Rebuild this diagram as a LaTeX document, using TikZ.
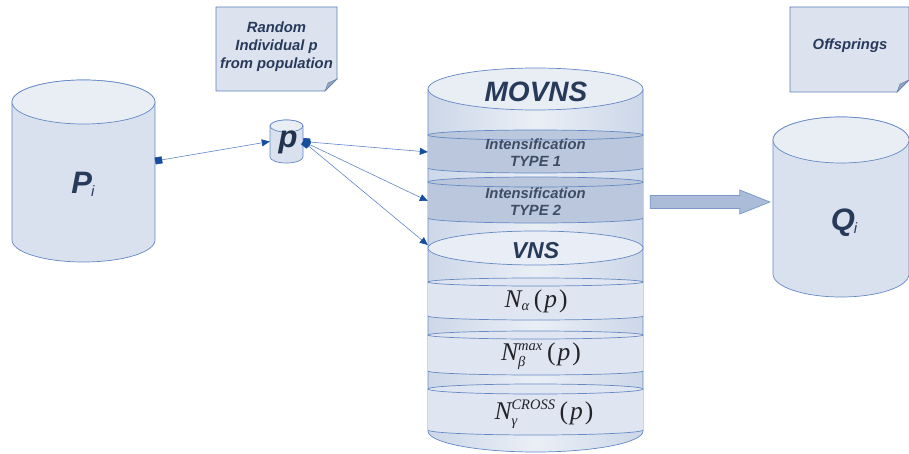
\documentclass[tikz,border=0pt]{standalone}
\usepackage{fontspec}
\newfontfamily\lab{Liberation Sans}
\newfontfamily\tms{Liberation Serif}
\usetikzlibrary{arrows.meta,calc}
\definecolor{cylfill}{RGB}{218,225,238}
\definecolor{cyltop}{RGB}{233,237,244}
\definecolor{cylline}{RGB}{100,137,196}
\definecolor{banddark}{RGB}{186,199,220}
\definecolor{bandlight}{RGB}{224,230,241}
\definecolor{movedge}{RGB}{204,215,232}
\definecolor{movmid}{RGB}{234,239,246}
\definecolor{vnsfill}{RGB}{233,237,245}
\definecolor{txt}{RGB}{40,58,90}
\definecolor{txtgray}{RGB}{62,76,102}
\definecolor{mathtxt}{RGB}{35,35,40}
\definecolor{arrline}{RGB}{95,135,200}
\definecolor{arrtip}{RGB}{22,78,158}
\definecolor{blockfill}{RGB}{170,188,216}
\definecolor{blockline}{RGB}{122,152,200}
\definecolor{notefill}{RGB}{220,227,239}
\definecolor{noteline}{RGB}{90,125,185}
\definecolor{foldfill}{RGB}{150,162,182}
\tikzset{sqtip/.tip={Square[length=7pt,width=7pt,color=arrtip]},
         tritip/.tip={Triangle[length=8pt,width=7pt,color=arrtip]}}
% cylinder: cx, y top-centre, y bottom-centre, rx, ry
\newcommand\dbcyl[5]{%
  \filldraw[cylline, fill=cylfill, line width=0.7pt] (#1-#4,#2) -- (#1-#4,#3) arc (180:360:#4 and #5) -- (#1+#4,#2) arc (0:180:#4 and #5) -- cycle;
  \filldraw[cylline, fill=cyltop, line width=0.7pt] (#1,#2) ellipse (#4 and #5);
}
% band of the MOVNS cylinder: y top, y bottom, ry, fill
\newcommand\movband[4]{%
  \fill[#4] (428,#1) arc (180:0:107.5 and #3) -- (643,#2) arc (0:-180:107.5 and #3) -- cycle;
  \draw[cylline, line width=0.7pt] (535.5,#1) ellipse (107.5 and #3);
  \draw[cylline, line width=0.7pt] (428,#2) arc (180:360:107.5 and #3);
}
% note with folded corner: x1, ytop, x2, ybottom
\newcommand\notebox[4]{%
  \filldraw[noteline, fill=notefill, line width=0.7pt] (#1,#2) -- (#3,#2) -- (#3,#4+12) -- (#3-12,#4) -- (#1,#4) -- cycle;
  \filldraw[noteline, fill=foldfill, line width=0.4pt] (#3-12,#4) -- (#3,#4+12) -- (#3-9,#4+8) -- cycle;
}
\newcommand\tmsit[1]{\mbox{\tms\itshape #1}}
\newcommand\tmssm[1]{\mbox{\tms\itshape\fontsize{14.5}{16}\selectfont #1}}
\newcommand\tmsarg{\,\mbox{\tms(\kern2pt\itshape p\kern2pt\upshape)}}
\begin{document}
\begin{tikzpicture}[x=1pt,y=1pt,
  lab/.style={font=\lab\bfseries\itshape, text=txt, align=center, inner sep=0pt},
  mlab/.style={text=mathtxt, inner sep=0pt, font=\fontsize{25.5}{28}\selectfont},
  area/.style={inner sep=0pt, draw=none},
  conn/.style={draw=arrline, line width=0.6pt}]
\useasboundingbox (0,0) rectangle (909,453);

% notes
\notebox{216}{446}{337}{362}
\node[lab, font=\lab\bfseries\itshape\fontsize{14.8}{18}\selectfont] (n1) at (276.5,406) {Random\\Individual p\\from population};
\notebox{790}{446}{909}{361}
\node[lab, font=\lab\bfseries\itshape\fontsize{14.8}{18}\selectfont] (n2) at (850,407) {Offsprings};

% P_i
\dbcyl{83.5}{351}{213}{71.5}{22}
\node[area, minimum width=143pt, minimum height=182pt] (Pi) at (83.5,282) {};
\node[lab] (Pit) at (83,269) {\fontsize{31}{32}\selectfont P\kern-1pt\fontsize{15}{16}\selectfont\mdseries\raisebox{-3pt}{i}};

% p
\dbcyl{286.5}{327}{296}{16.5}{6}
\node[area, minimum width=33pt, minimum height=43pt] (p) at (286.5,311.5) {};
\node[lab, text=txt!85!black] (pt) at (288,311) {\fontsize{31}{32}\selectfont p};

% Q_i
\dbcyl{841}{313}{179}{68}{23}
\node[area, minimum width=136pt, minimum height=180pt] (Qi) at (841,246) {};
\node[lab] (Qit) at (844,230) {\fontsize{31}{32}\selectfont Q\kern-1pt\fontsize{15}{16}\selectfont\mdseries\raisebox{-3pt}{i}};

% MOVNS cylinder
\shade[left color=movedge, right color=movedge, middle color=movmid] (428,364) -- (428,22) arc (180:360:107.5 and 21) -- (643,364) arc (0:180:107.5 and 21) -- cycle;
\draw[cylline, line width=0.7pt] (428,364) -- (428,22) arc (180:360:107.5 and 21) -- (643,364);
\filldraw[cylline, fill=cyltop, line width=0.7pt] (535.5,364) ellipse (107.5 and 21);
\node[area, minimum width=215pt, minimum height=383pt] (mov) at (535.5,193) {};
\node[lab, font=\lab\bfseries\itshape\fontsize{28}{30}\selectfont] (movt) at (536,361) {MOVNS};

\movband{318}{285}{5}{banddark}
\movband{271}{235}{5}{banddark}
\movband{171}{137}{4}{bandlight}
\movband{118}{82}{4}{bandlight}
\movband{64}{23}{5}{bandlight}
\filldraw[cylline, fill=vnsfill, line width=0.7pt] (535.5,205) ellipse (107.5 and 17);

\node[lab, text=txtgray, minimum width=215pt, minimum height=43pt, font=\lab\bfseries\itshape\fontsize{14.8}{17}\selectfont] (b1) at (535.5,300) {Intensification\\TYPE 1};
\node[lab, text=txtgray, minimum width=215pt, minimum height=46pt, font=\lab\bfseries\itshape\fontsize{14.8}{17}\selectfont] (b2) at (535.5,251) {Intensification\\TYPE 2};
\node[lab, minimum width=215pt, minimum height=34pt, font=\lab\bfseries\itshape\fontsize{23}{25}\selectfont] (vns) at (535.5,202) {VNS};

\node[mlab] (na) at (536,152) {$\tmsit{N}_{\tmssm{α}}\tmsarg$};
\node[mlab] (nb) at (541,97) {$\tmsit{N}_{\tmssm{β}}^{\tmssm{max}}\tmsarg$};
\node[mlab] (nc) at (544,39) {$\tmsit{N}_{\tmssm{γ}}^{\tmssm{CROSS}}\tmsarg$};

% connectors
\draw[conn, sqtip-tritip] ([yshift=10pt]Pi.east) -- (p.west);
\draw[conn, sqtip-tritip] (p.east) -- ([yshift=1pt]b1.west);
\draw[conn, sqtip-tritip] (p.east) -- ([yshift=1pt]b2.west);
\draw[conn, sqtip-tritip] (p.east) -- ([yshift=6pt]vns.west);

% block arrow
\coordinate (ga) at ($(b2.east)+(7,0)$);
\coordinate (gb) at ($(Qi.west |- b2.east)+(-3,0)$);
\filldraw[blockline, fill=blockfill, line width=0.7pt] ($(ga)+(0,6.5)$) -- ($(gb)+(-30,6.5)$) -- ($(gb)+(-30,12)$) -- (gb) -- ($(gb)+(-30,-12)$) -- ($(gb)+(-30,-6.5)$) -- ($(ga)+(0,-6.5)$) -- cycle;
\end{tikzpicture}
\end{document}
